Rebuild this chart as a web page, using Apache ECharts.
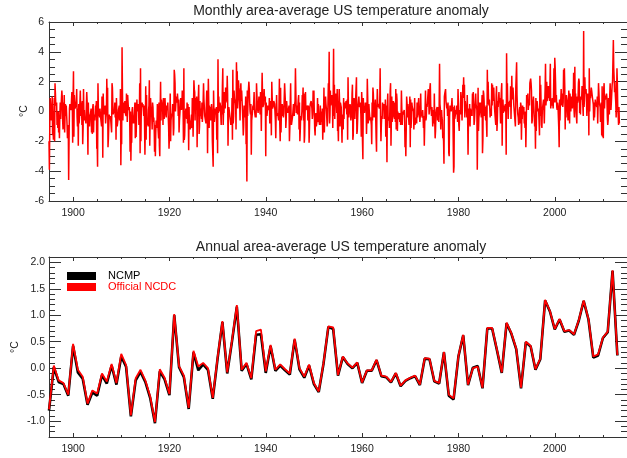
<!DOCTYPE html>
<html><head><meta charset="utf-8">
<script src="https://cdn.jsdelivr.net/npm/echarts@6.0.0/dist/echarts.min.js"></script>
<style>html,body{margin:0;padding:0;background:#fff}#chart{width:627px;height:458px}</style>
</head><body><div id="chart"></div>
<script>
// ---------------- DATA ----------------
const firstYear = 1895;
// Monthly anomaly (°C), Jan 1895 .. Jun 2013, one row per year
const monthlyAnomaly = [
-2.0,-3.9,-0.8,0.9,0.3,0.2,-0.6,0.1,1.0,-1.6,-1.0,-1.9,   //1895
-0.3,0.9,-2.0,1.9,1.2,0.4,0.3,0.6,-0.9,-0.4,-1.1,0.0,     //1896
-1.4,-0.6,-1.8,-0.2,0.6,-0.5,0.3,0.2,1.4,1.0,-0.6,-1.2,   //1897
0.6,-0.3,1.1,-1.4,-0.2,0.5,-0.3,0.4,0.3,-0.9,-1.8,-1.4,   //1898
-0.9,-4.6,-1.8,0.2,0.5,0.3,0.2,0.1,0.0,1.3,0.8,-2.1,      //1899
0.9,2.7,-1.7,1.1,0.6,0.2,0.3,0.5,0.7,1.5,-0.4,-1.0,       //1900
0.2,-2.3,0.5,-0.8,-0.4,0.6,1.4,0.3,-0.3,0.6,-0.9,0.7,     //1901
-2.2,-1.1,1.5,-0.2,0.1,-0.6,-0.4,-0.5,-0.8,0.3,1.3,0.7,   //1902
-0.6,-2.9,0.6,-0.9,-0.2,-1.0,-0.4,-0.5,-0.3,0.2,-1.4,-0.6,//1903
-1.5,0.3,0.5,-1.4,-0.2,-0.3,-0.6,-0.5,0.4,0.1,0.7,-2.5,   //1904
-2.1,-3.7,1.9,0.2,-0.3,0.1,-0.4,0.2,0.3,-0.5,-0.5,-1.0,   //1905
1.0,0.6,-3.1,1.2,0.3,-0.2,-0.3,0.2,0.4,-0.8,-0.4,-0.1,    //1906
2.2,0.5,1.6,-2.4,-1.8,-0.9,-0.2,-0.5,-0.6,-0.3,-0.2,-0.4, //1907
-1.4,1.9,1.6,0.5,-0.2,-0.3,0.1,-0.1,0.6,-0.4,0.6,-1.9,    //1908
0.9,0.8,-1.0,-0.9,-0.5,0.1,0.0,0.4,-0.6,-0.4,1.5,-3.6,    //1909
-1.3,-2.2,4.3,1.4,-0.6,0.6,0.5,-0.1,0.2,0.7,-0.1,-0.2,    //1910
-0.3,1.2,0.9,-0.7,1.1,1.0,0.1,0.2,0.3,-0.4,-2.7,0.0,      //1911
-3.3,-1.6,-2.1,0.1,0.3,-0.8,-0.6,-0.8,-0.7,0.0,0.6,-1.8,  //1912
0.6,-1.7,-0.6,0.8,0.0,0.2,0.1,0.5,-0.9,-0.4,1.9,-2.8,     //1913
2.9,-2.0,0.3,0.4,0.6,0.3,0.5,0.1,-0.3,0.4,-0.7,-2.9,      //1914
-0.8,1.7,-1.9,1.1,-0.9,-0.6,-0.7,-1.0,0.1,0.4,2.1,-2.3,   //1915
-2.2,0.9,0.3,-0.1,-0.3,-1.2,0.6,0.3,-0.7,-0.4,-0.9,-2.7,  //1916
-0.9,-3.0,-1.4,-0.6,-1.1,-0.9,0.5,-0.8,-0.7,-1.8,0.6,-2.3,//1917
-3.0,0.2,2.0,-0.6,0.8,0.6,0.0,0.5,-0.9,0.9,-0.2,-0.5,     //1918
-0.4,0.9,0.2,-0.2,-0.4,0.4,0.4,0.1,0.6,-0.3,-1.0,-2.5,    //1919
-1.7,-0.4,1.2,-2.0,-0.6,-0.3,-0.4,-0.1,0.5,0.6,-1.6,-1.1, //1920
2.8,2.5,1.9,0.0,0.1,1.0,0.8,0.6,1.2,0.8,-0.3,0.8,         //1921
-1.4,-0.6,-0.2,0.3,0.9,0.5,0.1,0.3,1.4,0.9,0.4,-2.1,      //1922
2.9,-1.9,-1.6,-0.4,-0.4,0.2,0.0,-0.5,0.6,-0.8,0.5,-0.2,   //1923
-2.6,0.3,-1.2,-0.6,-1.2,-0.9,-0.8,-0.2,-1.1,0.9,0.1,-1.7, //1924
-1.6,2.1,1.5,1.3,-0.6,0.9,0.4,0.5,1.0,-2.4,0.2,0.6,       //1925
0.9,1.8,-1.5,-1.0,0.7,-0.3,0.2,0.3,-0.5,0.6,-0.7,-0.2,    //1926
0.6,1.9,0.8,0.3,-0.3,-0.4,-0.3,-0.8,0.5,1.4,0.8,-2.8,     //1927
0.2,2.2,0.7,-1.1,0.4,-0.6,0.0,0.3,-0.6,0.5,0.1,-2.0,      //1928
-2.1,-3.7,1.4,0.0,-0.7,-0.4,0.2,0.2,-0.2,0.3,-1.9,0.2,    //1929
-2.8,3.5,-0.1,1.0,0.0,0.2,0.6,0.4,0.3,-0.9,0.4,-0.2,      //1930
1.7,2.9,-0.9,0.1,-0.1,1.3,1.0,0.2,1.6,0.6,1.5,0.7,        //1931
2.4,1.2,-2.3,-0.3,0.3,0.2,0.2,0.3,-0.6,-0.9,-0.8,-0.7,    //1932
0.9,-1.9,2.8,-0.8,-0.3,1.4,0.9,0.6,0.8,0.4,-1.2,3.3,      //1933
1.9,2.7,0.2,0.8,2.1,1.6,1.3,0.6,-0.6,1.2,1.9,0.7,         //1934
1.4,1.5,1.3,-0.6,-1.6,-1.0,0.4,0.3,-0.4,-0.2,1.0,-2.2,    //1935
-1.9,-4.7,1.4,-0.3,1.1,1.2,2.0,1.5,0.6,0.0,-0.2,0.5,      //1936
-2.9,-0.6,-0.7,0.0,0.4,0.1,0.6,1.3,0.2,-0.2,-0.4,0.0,     //1937
-0.4,1.9,2.0,0.4,0.1,-0.1,0.5,1.0,0.9,1.1,-0.2,1.3,       //1938
0.4,-1.3,0.9,2.6,1.1,0.3,0.4,0.5,1.5,0.7,0.6,1.0,         //1939
-3.0,0.6,0.6,-0.3,-0.2,0.4,0.4,0.3,0.1,0.9,-0.8,0.3,      //1940
0.7,0.3,-1.6,2.0,1.0,0.2,0.3,0.4,0.7,0.6,0.5,0.4,         //1941
-0.6,-1.8,0.0,1.1,-0.1,-0.3,-0.1,-0.2,-0.6,0.3,2.2,-0.9,  //1942
-2.0,1.6,-1.4,0.0,-0.3,0.5,0.3,0.3,-0.4,-0.1,0.0,1.9,     //1943
1.2,0.6,-1.1,-0.5,0.7,0.3,-0.1,0.2,-0.1,0.2,0.4,-2.0,     //1944
-1.1,0.6,1.9,-0.1,-0.9,-0.8,-0.5,-0.3,-0.2,0.5,0.0,-0.3,  //1945
0.5,0.7,2.9,1.3,-0.1,0.4,0.2,-0.2,0.3,0.8,1.1,-1.2,       //1946
0.6,-2.0,-1.3,-0.3,-0.6,-0.4,0.0,1.1,0.7,1.6,-0.6,1.2,    //1947
-2.1,-1.6,-0.2,1.3,0.1,0.1,0.1,0.2,0.4,-0.6,0.4,0.1,      //1948
-2.1,-1.0,0.3,0.5,0.6,0.7,0.5,0.2,-0.5,-0.2,1.4,0.4,      //1949
1.4,-0.1,-1.2,-1.6,-0.4,-0.1,-1.0,-0.9,-0.6,0.9,-0.7,0.5, //1950
-0.5,-0.4,-0.9,-0.4,0.4,-0.9,-0.2,0.0,-0.7,0.2,-1.9,-0.6, //1951
-0.2,1.6,-1.4,0.1,0.2,1.0,0.5,0.2,0.3,-1.0,-0.6,0.5,      //1952
1.9,1.0,4.0,-0.8,-0.3,1.4,0.4,0.3,0.9,1.1,0.7,-1.1,       //1953
0.8,4.2,-0.3,1.8,-0.5,0.6,1.2,0.5,0.9,-0.1,1.5,-1.3,      //1954
-1.0,-2.0,0.6,1.5,0.6,-1.0,0.6,0.7,0.3,0.4,-2.1,-0.2,     //1955
-0.6,-1.2,0.9,-0.5,0.6,0.7,0.2,0.4,0.7,0.8,-0.2,0.8,      //1956
-1.9,2.3,0.3,-0.4,0.0,0.1,0.5,0.3,-0.6,-0.6,-0.1,1.2,     //1957
1.8,-1.9,-1.6,0.3,0.9,-0.3,-0.5,0.2,0.2,0.2,2.3,-1.5,     //1958
-1.3,-0.5,0.4,0.5,1.0,0.5,0.3,0.6,0.4,-0.2,-1.7,1.3,      //1959
0.6,-2.0,-3.2,0.9,-0.1,0.3,-0.1,0.2,0.6,0.4,0.6,-1.5,     //1960
-0.4,2.2,1.0,-0.8,-0.6,0.5,0.0,0.1,-0.6,-0.4,-0.6,-0.9,   //1961
-2.2,0.6,-0.6,1.6,1.2,0.2,-0.4,-0.3,-0.4,0.8,0.8,-1.8,    //1962
-2.7,0.3,1.5,0.6,0.3,0.5,0.4,0.2,0.6,2.9,-0.4,-2.0,       //1963
-0.9,-0.3,-0.5,0.6,0.7,0.1,0.5,-0.5,-0.1,-0.4,0.8,-1.7,   //1964
0.4,-1.0,-3.4,0.4,1.2,-0.6,-0.6,-0.4,-1.1,-0.1,1.4,1.9,   //1965
-2.3,-0.5,1.0,-0.7,-0.4,0.2,0.7,-0.2,-0.3,-0.5,0.6,-0.7,  //1966
1.5,-1.2,1.2,0.8,-1.3,0.0,-0.5,-0.4,-0.3,-0.1,-0.7,-0.1,  //1967
-0.9,-0.5,1.4,0.2,-0.9,0.0,-0.2,-0.1,-0.1,0.1,-0.6,-2.4,  //1968
-1.4,-3.0,-1.2,1.0,0.6,-0.4,0.5,0.6,0.4,-0.9,0.1,1.0,     //1969
-2.4,0.8,-1.1,-0.4,0.6,0.3,0.2,0.4,0.0,-1.2,-0.3,0.9,     //1970
-0.9,-0.5,-0.7,-0.4,-0.8,0.6,-0.4,-0.2,0.5,0.9,0.1,0.1,   //1971
-0.7,-0.3,1.2,-0.1,0.0,0.0,-0.4,0.1,-0.4,-1.1,-0.3,-2.3,  //1972
-0.9,-0.8,1.4,-0.6,-0.4,0.5,0.3,0.4,0.3,1.5,0.8,-0.2,     //1973
0.3,1.6,1.9,0.4,0.3,-0.3,0.3,-0.1,-1.0,-0.5,0.1,-0.8,     //1974
1.2,-0.6,-1.8,-1.3,-0.2,0.1,0.1,0.3,-0.6,0.3,0.3,-0.7,    //1975
0.3,3.2,0.5,0.2,-1.2,-0.2,0.1,-0.4,-0.6,-1.8,-1.5,-2.0,   //1976
-3.5,1.0,1.2,1.1,1.5,0.7,0.8,0.2,0.5,-0.3,0.6,-0.1,       //1977
-2.8,-3.0,-0.3,0.4,0.0,0.2,0.0,0.1,0.9,0.1,0.3,-1.9,      //1978
-4.1,-3.7,0.4,-0.5,-0.3,0.1,-0.2,-0.1,0.4,0.3,-0.7,1.5,   //1979
0.6,-0.9,-1.3,0.1,0.1,-0.2,1.3,0.9,0.6,-0.6,0.4,1.8,      //1980
0.9,2.3,1.2,1.8,-0.4,0.7,0.4,0.3,0.1,-0.4,1.1,-0.5,       //1981
-2.9,-0.6,0.2,-0.9,0.5,-1.0,0.2,0.1,-0.3,0.1,-0.3,1.2,    //1982
0.9,1.3,0.5,-0.9,-0.6,0.0,0.6,1.2,0.5,0.3,0.1,-3.9,       //1983
-1.0,1.6,-1.3,-0.4,-0.2,0.6,0.3,0.6,-0.1,-0.4,-0.4,1.1,   //1984
-2.8,-1.9,1.4,1.2,0.7,-0.3,0.3,-0.2,-0.6,0.4,-0.9,-1.7,   //1985
2.8,0.5,2.0,0.9,0.4,0.8,0.3,-0.4,0.2,0.0,-0.3,1.9,        //1986
0.4,1.8,0.7,1.4,1.6,0.9,0.2,0.1,0.1,-0.9,1.1,1.7,         //1987
-1.3,-0.6,0.7,0.3,0.9,1.3,0.6,0.9,0.1,-0.8,0.7,1.4,       //1988
1.9,-2.3,0.6,0.8,-0.1,-0.2,0.4,0.0,0.1,0.5,0.3,-2.9,      //1989
3.9,1.2,1.9,0.4,-0.5,0.5,0.4,0.4,0.7,0.3,1.7,-0.5,        //1990
-0.6,2.4,0.8,0.7,1.6,1.1,0.4,0.5,0.4,0.4,-1.0,1.6,        //1991
1.7,3.3,1.1,0.3,-0.2,-0.4,-0.9,-0.7,0.1,0.3,-0.8,0.6,     //1992
0.4,-1.9,-0.3,-0.5,0.4,-0.2,0.1,0.3,-0.8,-0.6,-1.1,0.0,   //1993
-2.4,-0.8,1.1,1.1,0.6,1.2,0.1,0.1,0.8,0.4,1.9,1.9,        //1994
2.2,1.9,1.4,-0.8,-0.6,0.1,0.7,1.0,0.3,0.4,-1.0,-0.6,      //1995
-2.5,0.9,-1.3,0.3,0.7,0.6,0.0,0.2,0.0,0.1,-1.6,2.4,       //1996
-0.3,1.8,1.7,-0.9,-1.1,0.1,0.2,0.1,0.8,0.1,-0.8,0.5,      //1997
1.5,3.2,0.4,0.8,2.0,0.7,0.9,1.1,1.7,0.9,1.6,0.7,          //1998
1.9,3.2,0.2,0.6,0.4,0.4,0.9,0.6,0.2,1.1,2.9,0.6,          //1999
3.6,3.0,2.0,0.6,1.1,0.3,0.1,0.6,0.4,0.3,-1.1,-2.4,        //2000
0.8,-0.6,0.5,0.8,1.5,0.4,0.9,1.2,0.3,0.6,2.8,2.1,         //2001
2.9,1.6,-1.2,1.0,-0.4,1.1,1.0,0.7,0.8,-0.6,0.1,1.4,       //2002
1.0,-0.8,1.2,0.7,0.0,-0.1,1.0,1.0,0.2,1.5,0.3,2.6,        //2003
0.1,-0.4,3.0,0.7,1.2,0.0,-0.4,-0.8,1.0,0.6,0.8,1.9,       //2004
2.2,2.0,-0.1,0.6,-0.2,1.0,1.1,0.8,1.7,1.0,1.1,-0.3,       //2005
5.4,0.3,0.8,2.3,1.2,1.2,1.5,0.9,-0.3,-0.2,1.2,1.1,        //2006
0.8,-1.6,2.9,0.0,1.1,0.9,0.9,1.6,1.4,1.4,0.9,0.8,         //2007
0.5,-0.6,0.6,-0.4,-0.3,0.8,0.5,0.4,0.6,0.3,1.0,-0.8,      //2008
0.4,1.9,1.3,0.6,0.6,0.3,-0.7,0.1,0.6,-1.6,1.7,-1.7,       //2009
-0.4,-1.8,1.5,1.9,0.2,1.0,0.8,1.0,1.0,1.2,0.9,-0.4,       //2010
-0.9,-0.6,0.9,0.6,-0.2,1.1,1.9,1.8,0.1,0.6,1.2,1.8,       //2011
2.0,1.9,4.8,2.9,2.2,1.3,2.0,1.1,0.6,-0.4,0.9,2.9,         //2012
1.9,0.2,-0.2,-0.9,0.3,-0.8                                 //2013
];
// Annual anomaly (°C), 1895 .. 2013
const annualNCMP = [
-0.80,0.02,-0.26,-0.30,-0.52,0.42,-0.08,-0.20,-0.69,-0.46,
-0.52,-0.13,-0.29,0.05,-0.31,0.22,0.03,-0.91,-0.23,-0.07,
-0.26,-0.56,-1.04,-0.06,-0.21,-0.51,1.00,0.02,-0.17,-0.77,
0.30,-0.04,0.07,-0.03,-0.58,0.18,0.87,-0.10,0.51,1.16,
-0.05,0.08,-0.21,0.63,0.64,-0.09,0.42,-0.05,0.05,-0.04,
-0.12,0.54,-0.02,-0.18,0.05,-0.30,-0.45,0.09,0.78,0.74,
-0.14,0.21,0.08,0.00,0.10,-0.28,-0.05,-0.05,0.15,-0.15,
-0.17,-0.27,-0.10,-0.34,-0.24,-0.19,-0.15,-0.32,0.18,0.17,
-0.25,-0.29,0.30,-0.52,-0.59,0.22,0.62,-0.32,0.01,0.04,
-0.38,0.75,0.75,0.34,-0.09,0.85,0.65,0.36,-0.38,0.49,
0.41,-0.03,0.17,1.28,1.07,0.73,0.92,0.69,0.71,0.63,
0.90,1.27,0.92,0.20,0.24,0.57,0.68,1.84,0.24
];
const annualOfficial = [
-0.78,0.05,-0.23,-0.28,-0.50,0.46,-0.03,-0.16,-0.67,-0.42,
-0.48,-0.10,-0.25,0.08,-0.28,0.27,0.06,-0.89,-0.19,-0.03,
-0.23,-0.53,-1.02,-0.02,-0.18,-0.49,1.02,0.04,-0.14,-0.75,
0.33,0.03,0.10,0.00,-0.56,0.20,0.89,-0.08,0.53,1.19,
-0.03,0.10,-0.19,0.70,0.73,-0.06,0.44,-0.03,0.07,-0.02,
-0.10,0.56,0.00,-0.16,0.07,-0.28,-0.44,0.10,0.79,0.77,
-0.13,0.22,0.09,0.01,0.11,-0.27,-0.04,-0.04,0.16,-0.14,
-0.16,-0.26,-0.09,-0.33,-0.23,-0.18,-0.14,-0.31,0.19,0.18,
-0.24,-0.28,0.31,-0.50,-0.57,0.23,0.63,-0.31,0.00,0.03,
-0.37,0.76,0.76,0.35,-0.08,0.86,0.66,0.37,-0.37,0.50,
0.42,-0.02,0.18,1.29,1.08,0.74,0.93,0.70,0.72,0.64,
0.91,1.28,0.93,0.22,0.26,0.58,0.69,1.85,0.25
];
const xMajorTicks = [1900, 1920, 1940, 1960, 1980, 2000];
const yBottomTicks = [-1.0, -0.5, 0.0, 0.5, 1.0, 1.5, 2.0];
const legendNames = ['NCMP', 'Official NCDC'];
const titles = ['Monthly area-average US temperature anomaly', 'Annual area-average US temperature anomaly'];

// ---------------- BUILD ----------------
const monthlyPts = monthlyAnomaly.map((v, i) => [firstYear + i / 12, v]);
const ncmpPts = annualNCMP.map((v, i) => [firstYear + i, v]);
const offPts = annualOfficial.map((v, i) => [firstYear + i, v]);

const FONT = "'Liberation Sans', Arial, Helvetica, sans-serif";
const FRAME = '#333';
const TXT = '#222';
const X_MIN = 1895, X_MAX = 2015;

function xMajor(g, pos, labels) {
  return {
    type: 'value', gridIndex: g, position: pos, min: X_MIN, max: X_MAX,
    axisLine: { show: true, onZero: false, lineStyle: { color: FRAME, width: 1 } },
    axisTick: { show: true, inside: true, length: 4, customValues: xMajorTicks, lineStyle: { color: FRAME } },
    axisLabel: { show: labels, customValues: xMajorTicks, fontSize: 10.5, color: TXT, margin: 7, fontFamily: FONT,
      formatter: v => String(Math.round(v)) },
    splitLine: { show: false }
  };
}
function xMinor(g, pos) {
  return {
    type: 'value', gridIndex: g, position: pos, min: X_MIN, max: X_MAX, interval: 5,
    axisLine: { show: false, onZero: false },
    axisTick: { show: true, inside: true, length: 2, lineStyle: { color: FRAME } },
    axisLabel: { show: false }, splitLine: { show: false }
  };
}
function yTop(pos, labels) {
  return {
    type: 'value', gridIndex: 0, position: pos, min: -6, max: 6, interval: 2,
    axisLine: { show: true, onZero: false, lineStyle: { color: FRAME, width: 1 } },
    axisTick: { show: true, inside: true, length: 12, lineStyle: { color: FRAME } },
    minorTick: { show: true, splitNumber: 4, length: 6, lineStyle: { color: FRAME } },
    axisLabel: { show: labels, fontSize: 10.5, color: TXT, margin: 5, fontFamily: FONT, showMinLabel: true, showMaxLabel: true },
    splitLine: { show: false }, minorSplitLine: { show: false }
  };
}
function yBotMajor(pos, labels) {
  return {
    type: 'value', gridIndex: 1, position: pos, min: -1.3, max: 2.1,
    axisLine: { show: true, onZero: false, lineStyle: { color: FRAME, width: 1 } },
    axisTick: { show: true, inside: true, length: 12, customValues: yBottomTicks, lineStyle: { color: FRAME } },
    axisLabel: { show: labels, customValues: yBottomTicks, fontSize: 10.5, color: TXT, margin: 4, fontFamily: FONT,
      formatter: v => Number(v).toFixed(1) },
    splitLine: { show: false }
  };
}
function yBotMinor(pos) {
  return {
    type: 'value', gridIndex: 1, position: pos, min: -1.3, max: 2.1, interval: 0.1,
    axisLine: { show: false, onZero: false },
    axisTick: { show: true, inside: true, length: 6, lineStyle: { color: FRAME } },
    axisLabel: { show: false }, splitLine: { show: false }
  };
}

const chart = echarts.init(document.getElementById('chart'), null, { renderer: 'canvas' });
chart.setOption({
  animation: false,
  backgroundColor: '#fff',
  grid: [
    { left: 49, top: 22, width: 585, height: 179 },
    { left: 49, top: 257, width: 585, height: 180 }
  ],
  xAxis: [
    xMajor(0, 'bottom', true), xMinor(0, 'bottom'), xMajor(0, 'top', false), xMinor(0, 'top'),
    xMajor(1, 'bottom', true), xMinor(1, 'bottom'), xMajor(1, 'top', false), xMinor(1, 'top')
  ],
  yAxis: [
    yTop('left', true), yTop('right', false),
    yBotMajor('left', true), yBotMinor('left'), yBotMajor('right', false), yBotMinor('right')
  ],
  series: [
    { name: 'Monthly', type: 'line', xAxisIndex: 0, yAxisIndex: 0, data: monthlyPts,
      showSymbol: false, symbol: 'none', lineStyle: { color: '#ff0000', width: 1.5 }, silent: true },
    { name: legendNames[0], type: 'line', xAxisIndex: 4, yAxisIndex: 2, data: ncmpPts,
      showSymbol: false, symbol: 'none', lineStyle: { color: '#000', width: 2.6 }, z: 2, silent: true },
    { name: legendNames[1], type: 'line', xAxisIndex: 4, yAxisIndex: 2, data: offPts,
      showSymbol: false, symbol: 'none', lineStyle: { color: '#ff0000', width: 1.8 }, z: 3, silent: true }
  ],
  graphic: [
    { type: 'text', x: 341, y: 11, style: { text: titles[0], align: 'center', verticalAlign: 'middle', fontSize: 14, fontFamily: FONT, fill: TXT } },
    { type: 'text', x: 341, y: 247, style: { text: titles[1], align: 'center', verticalAlign: 'middle', fontSize: 14, fontFamily: FONT, fill: TXT } },
    { type: 'text', x: 24, y: 111, rotation: Math.PI / 2, style: { text: '°C', align: 'center', verticalAlign: 'middle', fontSize: 10.5, fontFamily: FONT, fill: TXT } },
    { type: 'text', x: 15, y: 347, rotation: Math.PI / 2, style: { text: '°C', align: 'center', verticalAlign: 'middle', fontSize: 10.5, fontFamily: FONT, fill: TXT } },
    { type: 'rect', shape: { x: 67, y: 272, width: 29, height: 8 }, style: { fill: '#000' } },
    { type: 'rect', shape: { x: 67, y: 283, width: 29, height: 8 }, style: { fill: '#ff0000' } },
    { type: 'text', x: 108, y: 276, style: { text: legendNames[0], align: 'left', verticalAlign: 'middle', fontSize: 11, fontFamily: FONT, fill: '#000' } },
    { type: 'text', x: 108, y: 287, style: { text: legendNames[1], align: 'left', verticalAlign: 'middle', fontSize: 11, fontFamily: FONT, fill: '#ff0000' } }
  ]
});
</script>
</body></html>
